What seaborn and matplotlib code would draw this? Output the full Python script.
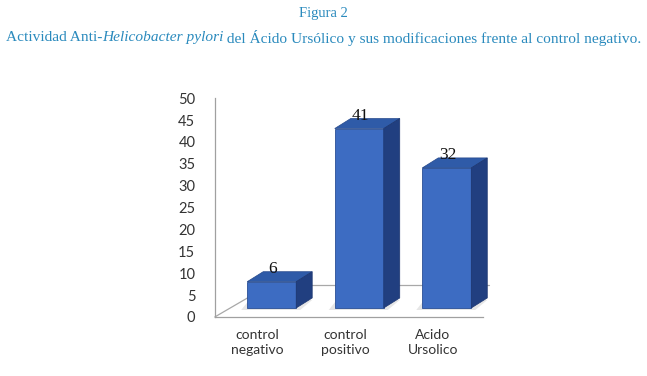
import pandas as pd
import seaborn as sns
import matplotlib.pyplot as plt
from matplotlib.patches import Polygon
from matplotlib.lines import Line2D
from matplotlib.transforms import ScaledTranslation

# datos
grupos = ['control\nnegativo', 'control\npositivo', 'Acido\nUrsolico']
valores = [6, 41, 32]
ticks_y = [0, 5, 10, 15, 20, 25, 30, 35, 40, 45, 50]

azul_frente = '#3d6cc2'
azul_arriba = '#2f5ba8'
azul_lado = '#213f80'
azul_titulo = '#2a8abd'

sns.set_style('white')
fig = plt.figure(figsize=(6.47, 3.76), dpi=100)
ax = fig.add_axes([0.332, 0.157, 0.414, 0.582])
ax.set_facecolor('none')
ax.set_zorder(1)

df = pd.DataFrame({'grupo': grupos, 'valor': valores})
sns.barplot(data=df, x='grupo', y='valor', color=azul_frente, saturation=1,
            width=0.56, edgecolor='#2a4f95', linewidth=0.6, ax=ax)

ax.set_xlim(-0.49, 2.57)
ax.set_ylim(0, 50)
ax.set_yticks(ticks_y)
ax.set_xlabel('')
ax.set_ylabel('')
ax.tick_params(axis='y', length=0, pad=14, labelsize=10.5, labelcolor='#333333')
ax.tick_params(axis='x', length=0, pad=9, labelsize=10, labelcolor='#333333')
for lab in ax.get_xticklabels() + ax.get_yticklabels():
    lab.set_fontfamily('Lato')
    lab.set_linespacing(1.25)
for s in ['top', 'right']:
    ax.spines[s].set_visible(False)
for s in ['left', 'bottom']:
    ax.spines[s].set_color('#a0a0a0')
    ax.spines[s].set_linewidth(0.9)

# suelo en perspectiva (pixeles), detras de las barras
to_px = ax.transData.transform
x0, y0 = to_px((-0.49, 0))
x1, _ = to_px((2.57, 0))
fdx, fdy = 55, 32
fig.add_artist(Line2D([x0, x0 + fdx], [y0, y0 + fdy], transform=None,
                      color='#a8a8a8', lw=0.9, zorder=0))
fig.add_artist(Line2D([x0 + fdx, x1 + 6], [y0 + fdy, y0 + fdy], transform=None,
                      color='#a8a8a8', lw=0.9, zorder=0))

# barras en 3D: desplazar el frente y agregar tapa y lado
dx, dy = 16, 10
sx, sy = 14, 9
shift = ScaledTranslation(sx / 100, sy / 100, fig.dpi_scale_trans)
for bar, v in zip(ax.patches, valores):
    bar.set_transform(ax.transData + shift)
    bar.set_zorder(3)
    (a, b), (c, d) = to_px((bar.get_x(), 0)), to_px((bar.get_x() + bar.get_width(), v))
    a, c = a + sx, c + sx
    b, d = b + sy, d + sy
    sombra = Polygon([(a - 6, b - 2), (c + 4, b - 2), (c + dx, b + dy - 2), (a + 2, b + dy - 2)],
                     closed=True, transform=None, facecolor='#e6e6e6',
                     edgecolor='none', zorder=0.5)
    tapa = Polygon([(a, d), (c, d), (c + dx, d + dy), (a + dx, d + dy)],
                   closed=True, transform=None, facecolor=azul_arriba,
                   edgecolor='#24478a', lw=0.5, zorder=3)
    lado = Polygon([(c, b), (c + dx, b + dy), (c + dx, d + dy), (c, d)],
                   closed=True, transform=None, facecolor=azul_lado,
                   edgecolor='#1c3670', lw=0.5, zorder=3)
    fig.add_artist(sombra)
    fig.add_artist(tapa)
    fig.add_artist(lado)
    fig.text((a + c) / 2 + 1, d + dy - 1, str(v), transform=None,
             ha='center', va='baseline', fontsize=12.5,
             fontfamily='Liberation Serif', color='#111111', zorder=4)

# titulos
fig.text(0.5, 0.963, 'Figura 2', ha='center', va='center', fontsize=10.5,
         fontfamily='Liberation Serif', color=azul_titulo)

partes = [('Actividad Anti-', 'normal'), ('Helicobacter pylori', 'italic'),
          (' del Ácido Ursólico y sus modificaciones frente al control negativo.', 'normal')]
fig.canvas.draw()
r = fig.canvas.get_renderer()
textos = []
ancho = 0
for t, estilo in partes:
    tx = fig.text(0, 0.899, t, ha='left', va='center', fontsize=11.1,
                  fontfamily='Liberation Serif', style=estilo, color=azul_titulo)
    w = tx.get_window_extent(r).width
    textos.append((tx, w))
    ancho += w
xpos = (fig.bbox.width - ancho) / 2
for tx, w in textos:
    tx.set_x(xpos / fig.bbox.width)
    xpos += w

fig.savefig('out.png', dpi=100)
